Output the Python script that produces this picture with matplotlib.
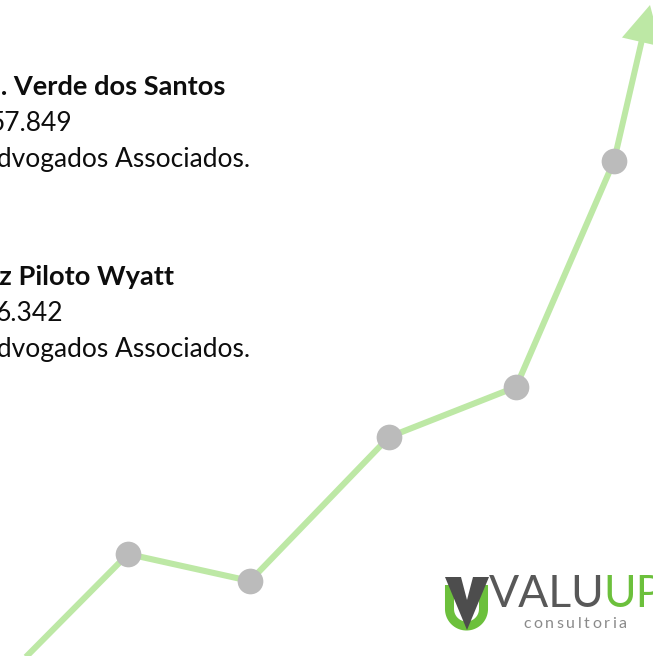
import matplotlib
matplotlib.use("Agg")
import matplotlib.pyplot as plt
from matplotlib.patches import Polygon
import numpy as np

# trend line (x, level); first point lies just outside the frame
trend_x = [15, 128, 250, 389, 516, 614]
trend_y = [-12, 102, 75, 219, 269, 495]
arrow_tip = (650, 651)

# text blocks (cut off at the left edge in the original)
names = ["M. Verde dos Santos", "Luiz Piloto Wyatt"]
numbers = ["57.849", "6.342"]
firm = "Advogados Associados."

green_line = "#bde8a5"
dot_gray = "#bbbbbb"
logo_green = "#6cc03c"
logo_gray = "#585858"

fig = plt.figure(figsize=(6.53, 6.56), dpi=100)
ax = fig.add_axes([0, 0, 1, 1])
ax.set_xlim(0, 653)
ax.set_ylim(0, 656)
ax.axis("off")

# line + arrow
ax.plot(trend_x, trend_y, color=green_line, lw=4.4, solid_capstyle="butt", zorder=1)
ax.arrow(trend_x[-1], trend_y[-1], arrow_tip[0] - trend_x[-1], arrow_tip[1] - trend_y[-1],
         width=6, head_width=40, head_length=38, length_includes_head=True,
         color=green_line, lw=0, zorder=1)
ax.plot(trend_x[1:], trend_y[1:], "o", color=dot_gray, markersize=18.5,
        markeredgewidth=0, zorder=2)

# text
font = "Lato"
fs = 19
blocks = [(561, 225, 72), (371, 174, 63)]
for (base, name_end, num_end), name, num in zip(blocks, names, numbers):
    ax.text(name_end, base, name, ha="right", va="baseline", fontsize=19.6,
            fontweight="bold", family=font, color="#0d0d0d")
    ax.text(num_end, base - 36, num, ha="right", va="baseline", fontsize=fs,
            family=font, color="#0d0d0d")
    ax.text(250, base - 72, firm, ha="right", va="baseline", fontsize=fs,
            family=font, color="#0d0d0d")

# logo: green U under a gray V
t = np.linspace(np.pi, 2 * np.pi, 40)
ux = np.concatenate([[449.5], 466.5 + 17 * np.cos(t), [483.5]])
uy = np.concatenate([[71], 47 + 17 * np.sin(t), [71]])
ax.plot(ux, uy, color=logo_green, lw=6.5, solid_capstyle="butt", zorder=3)
ax.add_patch(Polygon([(445, 79), (461, 79), (467, 56), (473, 79), (489, 79), (467, 26)],
                     closed=True, color="#4d4d4d", lw=0, zorder=4))

r = fig.canvas.get_renderer()
valu = ax.text(489, 49, "VALU", ha="left", va="baseline", fontsize=32,
               family=font, color=logo_gray)
bb = valu.get_window_extent(r)
ax.text(bb.x1 - 1, 49, "UP", ha="left", va="baseline", fontsize=32,
        family=font, color=logo_green)

# letter-spaced tagline
x = 523
for ch in "consultoria":
    tx = ax.text(x, 28, ch, ha="left", va="baseline", fontsize=11.5,
                 family=font, color="#8a8a8a")
    x += tx.get_window_extent(r).width + 2.6

fig.savefig("out.png", dpi=100)
